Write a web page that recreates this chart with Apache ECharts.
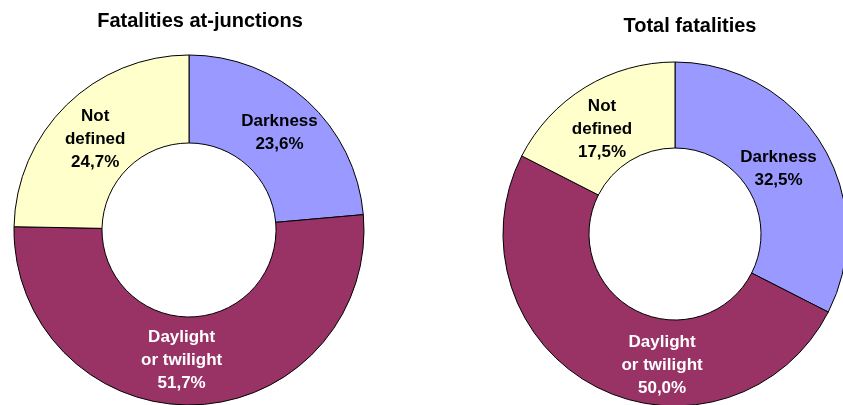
<!DOCTYPE html>
<html>
<head>
<meta charset="utf-8">
<script src="https://cdn.jsdelivr.net/npm/echarts@6/dist/echarts.min.js"></script>
<style>
  html, body { margin: 0; padding: 0; background: #fff; }
  #chart { width: 843px; height: 405px; }
</style>
</head>
<body>
<div id="chart"></div>
<script>
// Light conditions of road fatalities (shares in %)
const categories = ['Darkness', 'Daylight\nor twilight', 'Not\ndefined'];
const junctionValues = [23.6, 51.7, 24.7];
const totalValues = [32.5, 50.0, 17.5];
const chartTitles = ['Fatalities at-junctions', 'Total fatalities'];

const sliceColors = ['#9999FF', '#993366', '#FFFFCC'];
const labelColors = ['#000', '#fff', '#000'];

// hand-placed nudges of the slice labels, per chart
const junctionLabelShift = [[0, 2], [-12, -4], [0, 5]];
const totalLabelShift = [[-9, 4], [47, 14], [-4, 8]];

const FONT = 'Liberation Sans, Arial, sans-serif';
const fmt = v => v.toFixed(1).replace('.', ',') + '%';

function buildData(values, shifts) {
  return categories.map((name, i) => ({
    name: name,
    value: values[i],
    itemStyle: { color: sliceColors[i] },
    label: { color: labelColors[i], offset: shifts[i] }
  }));
}

function donut(values, shifts, center, radius) {
  return {
    type: 'pie',
    center: center,
    radius: radius,
    startAngle: 90,
    clockwise: true,
    silent: true,
    animation: false,
    itemStyle: { borderColor: '#000', borderWidth: 1 },
    label: {
      show: true,
      position: 'inside',
      fontFamily: FONT,
      fontWeight: 'bold',
      fontSize: 17,
      lineHeight: 23,
      formatter: p => p.name + '\n' + fmt(p.value)
    },
    labelLine: { show: false },
    data: buildData(values, shifts)
  };
}

const titleStyle = { fontFamily: FONT, fontWeight: 'bold', fontSize: 20, color: '#000' };

const chart = echarts.init(document.getElementById('chart'), null, { renderer: 'canvas' });
chart.setOption({
  backgroundColor: '#fff',
  title: [
    { text: chartTitles[0], left: 195, top: 6, textAlign: 'center', textStyle: titleStyle },
    { text: chartTitles[1], left: 685, top: 11, textAlign: 'center', textStyle: titleStyle }
  ],
  series: [
    donut(junctionValues, junctionLabelShift, [189, 230], [87, 175]),
    donut(totalValues, totalLabelShift, [675, 234], [86, 172])
  ]
});
</script>
</body>
</html>
